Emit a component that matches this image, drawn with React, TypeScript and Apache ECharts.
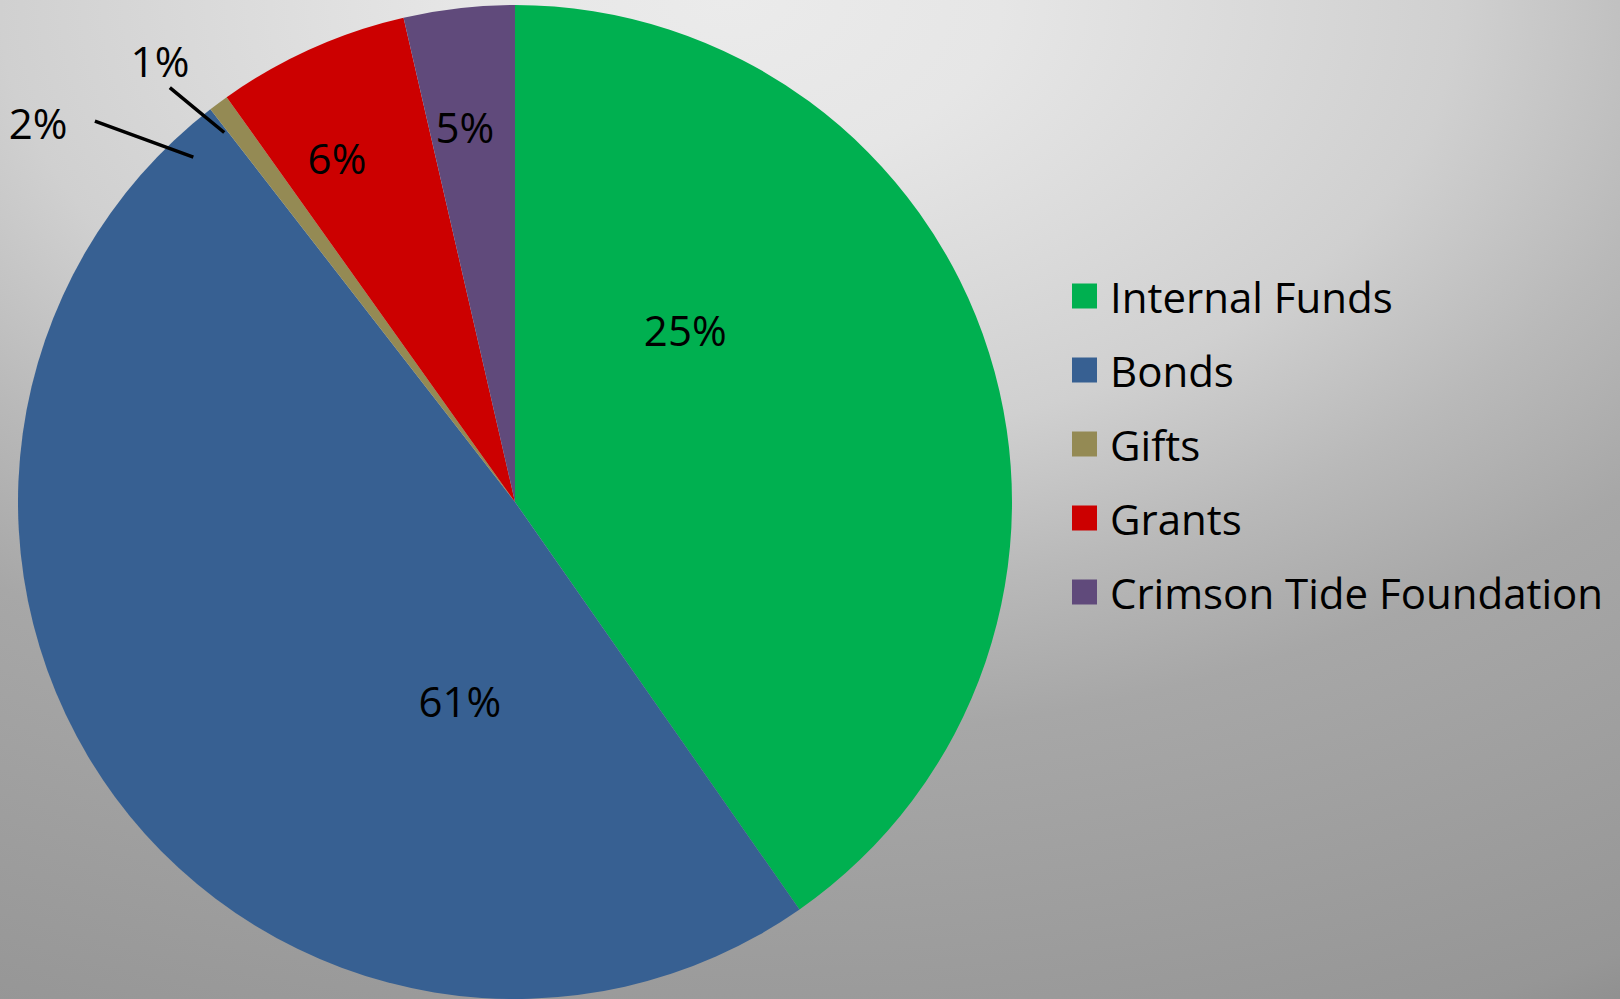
import React, { useEffect, useRef } from "react";
import * as echarts from "echarts";

// ---- Data ----
// Legend categories and the share of the circle each drawn slice covers (%)
const categories = ["Internal Funds", "Bonds", "Gifts", "Grants", "Crimson Tide Foundation"];
const sliceValues = [40.3, 49.2, 0.65, 6.25, 3.6];
const sliceColors = ["#00B050", "#376092", "#948A54", "#CC0000", "#604A7B"];

// Data labels as printed on the chart (an unnamed 2% item sits after Bonds)
const labelNames = ["Internal Funds", "Bonds", "", "Gifts", "Grants", "Crimson Tide Foundation"];
const labelValues = [25, 61, 2, 1, 6, 5];
const outsideLabels = [2, 3];

// ---- Layout / style constants ----
const W = 1620;
const H = 999;
const CX = 515;
const CY = 502;
const R = 497;
const FONT = "'Open Sans', 'Noto Sans', sans-serif";

// label placement: angle offset (deg) from the item's mid angle, radius factor;
// optional leader line as two [angleOffset, radiusFactor] pairs
const LABEL_PLACE: { a: number; f: number; line?: number[][] }[] = [
  { a: -0.3, f: 0.487 },
  { a: -4.3, f: 0.415 },
  { a: -4.7, f: 1.226, line: [[3.8, 0.949], [-1.0, 1.141]] },
  { a: 2.6, f: 1.14, line: [[3.2, 0.946], [1.6, 1.085]] },
  { a: 1.5, f: 0.781 },
  { a: 1.4, f: 0.763 },
];

function polar(deg: number, f: number): number[] {
  const rad = (deg * Math.PI) / 180;
  return [CX + f * R * Math.sin(rad), CY - f * R * Math.cos(rad)];
}

export default function App() {
  const ref = useRef<HTMLDivElement>(null);

  useEffect(() => {
    if (!ref.current) return;
    const chart = echarts.init(ref.current, null, { renderer: "svg" });

    const total = labelValues.reduce((s, v) => s + v, 0);
    const midAngles: number[] = [];
    let acc = 0;
    labelValues.forEach((v) => {
      midAngles.push(((acc + v / 2) / total) * 360);
      acc += v;
    });

    const option: any = {
      animation: false,
      backgroundColor: {
        type: "radial",
        x: 0.45,
        y: 0,
        r: 1.2,
        colorStops: [
          { offset: 0, color: "#ebebeb" },
          { offset: 0.14, color: "#e6e6e6" },
          { offset: 0.375, color: "#d0d0d0" },
          { offset: 0.5, color: "#b9b9b9" },
          { offset: 0.617, color: "#a7a7a7" },
          { offset: 0.917, color: "#969696" },
          { offset: 1, color: "#888888" },
        ],
      },
      legend: {
        orient: "vertical",
        left: 1072,
        top: 275,
        padding: 0,
        icon: "rect",
        itemWidth: 25,
        itemHeight: 25,
        itemGap: 32,
        selectedMode: false,
        data: categories.map((name, i) => ({ name, itemStyle: { color: sliceColors[i] } })),
        textStyle: {
          fontFamily: FONT,
          fontSize: 42,
          lineHeight: 42,
          color: "#000",
          padding: [0, 0, 0, 8],
        },
      },
      series: [
        {
          type: "pie",
          z: 2,
          center: [CX, CY],
          radius: R,
          startAngle: 90,
          clockwise: true,
          silent: true,
          avoidLabelOverlap: false,
          label: { show: false },
          labelLine: { show: false },
          itemStyle: { borderWidth: 0 },
          emphasis: { disabled: true },
          data: categories.map((name, i) => ({
            name,
            value: sliceValues[i],
            itemStyle: { color: sliceColors[i] },
          })),
        },
        {
          type: "pie",
          z: 5,
          center: [CX, CY],
          radius: R,
          startAngle: 90,
          clockwise: true,
          silent: true,
          avoidLabelOverlap: false,
          emphasis: { disabled: true },
          itemStyle: { color: "rgba(0,0,0,0)", borderWidth: 0 },
          label: {
            show: true,
            position: "inside",
            color: "#000",
            fontFamily: FONT,
            fontSize: 42,
            formatter: (p: any) => labelValues[p.dataIndex] + "%",
          },
          labelLine: { show: false },
          labelLayout: (p: any) => {
            const i = p.dataIndex;
            const pl = LABEL_PLACE[i];
            const m = midAngles[i];
            const t = polar(m + pl.a, pl.f);
            const res: any = { x: t[0], y: t[1], align: "center", verticalAlign: "middle" };
            if (pl.line) {
              const a = polar(m + pl.line[0][0], pl.line[0][1]);
              const b = polar(m + pl.line[1][0], pl.line[1][1]);
              res.labelLinePoints = [a, [(a[0] + b[0]) / 2, (a[1] + b[1]) / 2], b];
            }
            return res;
          },
          data: labelNames.map((name, i) => {
            const item: any = { name, value: labelValues[i] };
            if (outsideLabels.indexOf(i) >= 0) {
              item.label = { position: "outside" };
              item.labelLine = {
                show: true,
                length: 20,
                length2: 0,
                smooth: false,
                lineStyle: { color: "#000", width: 3.5 },
              };
            }
            return item;
          }),
        },
      ],
    };

    chart.setOption(option);
    return () => chart.dispose();
  }, []);

  return (
    <div
      ref={ref}
      style={{ position: "absolute", left: 0, top: 0, width: W, height: H }}
    />
  );
}
